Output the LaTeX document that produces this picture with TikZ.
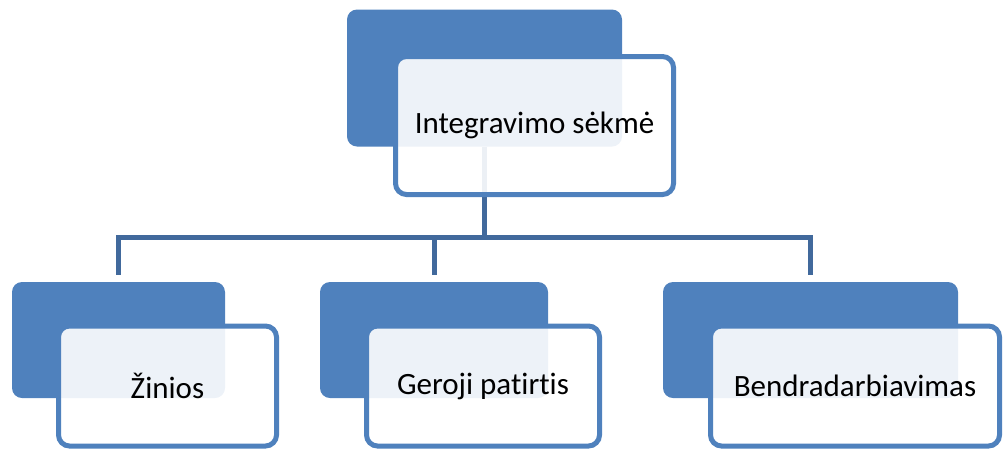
\documentclass[tikz,border=0pt]{standalone}
\usepackage{fontspec}
\setmainfont{Carlito}[Ligatures={NoCommon}]
\definecolor{boxblue}{HTML}{4F81BD}
\definecolor{linkblue}{HTML}{41699C}
\tikzset{
    back/.style={fill=boxblue, rounded corners=10pt, inner sep=0pt},
    front/.style={draw=boxblue, line width=5pt, fill=white, fill opacity=0.9,
        text opacity=1, rounded corners=11pt, inner sep=0pt,
        font=\fontsize{31}{37}\selectfont},
    link/.style={draw=linkblue, line width=5pt}
}
\begin{document}
\begin{tikzpicture}[x=1pt, y=-1pt]
    \useasboundingbox (0,0) rectangle (1003,448);

    % --- back boxes ---
    \node[back, minimum width=275pt, minimum height=137pt] (s0) at (484.5,78) {};
    \node[back, minimum width=213pt, minimum height=116pt] (s1) at (118.5,340) {};
    \node[back, minimum width=228pt, minimum height=116pt] (s2) at (434,340) {};
    \node[back, minimum width=295pt, minimum height=116pt] (s3) at (810.5,340) {};

    % --- connectors ---
    \coordinate (bus) at (484.5,237);
    \draw[link] (s0.south) -- (bus);
    \foreach \n in {1,2,3} {
        \draw[link, shorten >=7pt] (bus) -| (s\n.north);
    }

    % --- front boxes with text ---
    \node[front, minimum width=278pt, minimum height=138pt] (f0) at (534.5,125.5) {Integravimo sėkmė};
    \node[front, minimum width=218pt, minimum height=120pt] (f1) at (167.5,386) {Žinios};
    \node[front, minimum width=233pt, minimum height=120pt] (f2) at (483,386) {Geroji patirtis};
    \node[front, minimum width=289pt, minimum height=120pt] (f3) at (855,386) {Bendradarbiavimas};
\end{tikzpicture}
\end{document}
